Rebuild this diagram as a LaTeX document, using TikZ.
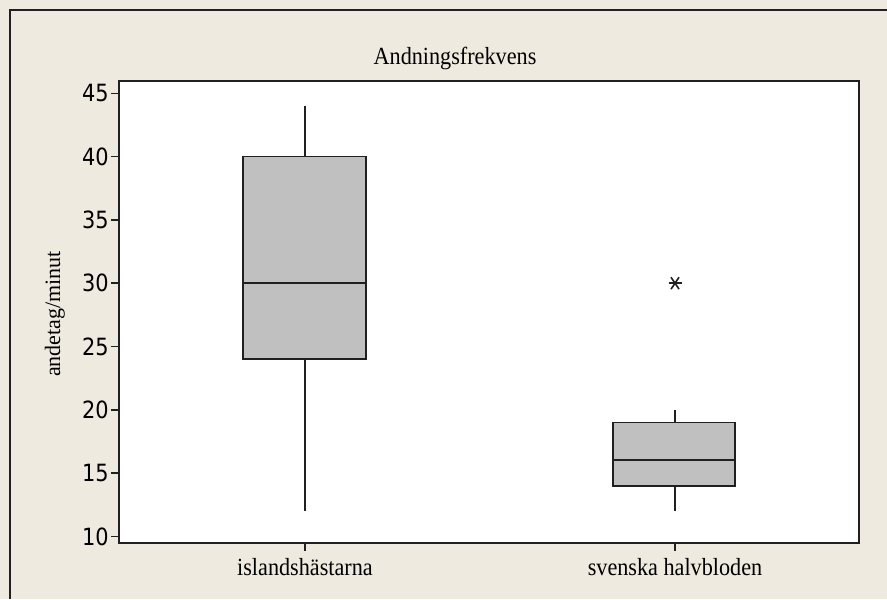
\documentclass[tikz,border=0pt]{standalone}
\usepackage{fontspec}
\setmainfont{Liberation Serif}
\newfontfamily\ticksfont[FakeStretch=0.88]{DejaVu Sans}
\newfontfamily\labelfont[FakeStretch=0.9]{Liberation Serif}
\definecolor{panel}{HTML}{EEEAE0}
\definecolor{boxgray}{HTML}{C0C0C0}
\definecolor{ink}{HTML}{202020}
\begin{document}
\begin{tikzpicture}[
x=0.75pt,y=-0.75pt,
every node/.append style={font={\labelfont\fontsize{18.5}{22}\selectfont},inner sep=0pt},
ticklabel/.style={font={\ticksfont\fontsize{17.8}{20}\selectfont},anchor=east},
axislabel/.style={font={\fontsize{16.5}{20}\selectfont},rotate=90,anchor=base},
grouplabel/.style={anchor=base},
frame/.style={draw=ink,line width=1.5pt},
box/.style={draw=ink,line width=1.3pt,fill=boxgray},
whisker/.style={draw=ink,line width=1.3pt},
tick/.style={draw=ink,line width=1.1pt},
]
\useasboundingbox (0,0) rectangle (887,599);
\fill[panel] (0,0) rectangle (887,599);
\draw[frame] (10,599) -- (10,10.5) -- (887,10.5);

% plot area
\draw[frame,fill=white] (119,81) rectangle (859,543);
\node[anchor=base] (title) at (455,65) {Andningsfrekvens};
\node[axislabel] (ylabel) at (60,314) {andetag/minut};

% data part: value v sits at pixel 663-12.66v
\begin{scope}[shift={(0,663)},y=9.495pt]
\foreach \v in {10,15,...,45} {
  \draw[tick] (111,\v) -- (119,\v);
  \node[ticklabel] (t\v) at (109,\v) {\v};
}

% islandshästarna
\draw[whisker] (305,44) -- (305,12);
\draw[box] (243,24) rectangle (366,40);
\draw[whisker] (243,30) -- (366,30);

% svenska halvbloden
\draw[whisker] (675,20) -- (675,12);
\draw[box] (613,14) rectangle (735,19);
\draw[whisker] (613,16.03) -- (735,16.03);

% outlier
\begin{scope}[shift={(675,30)}]
\draw[ink,line width=1.2pt] (-6.5,0) -- (6.5,0);
\draw[ink,line width=1.2pt] (-4,0.47) -- (4,-0.47);
\draw[ink,line width=1.2pt] (-4,-0.47) -- (4,0.47);
\end{scope}
\end{scope}

% group ticks and labels
\draw[tick] (305,543) -- (305,551);
\draw[tick] (675,543) -- (675,551);
\node[grouplabel] (g1) at (305,575) {islandshästarna};
\node[grouplabel] (g2) at (675,575) {svenska halvbloden};
\end{tikzpicture}
\end{document}
